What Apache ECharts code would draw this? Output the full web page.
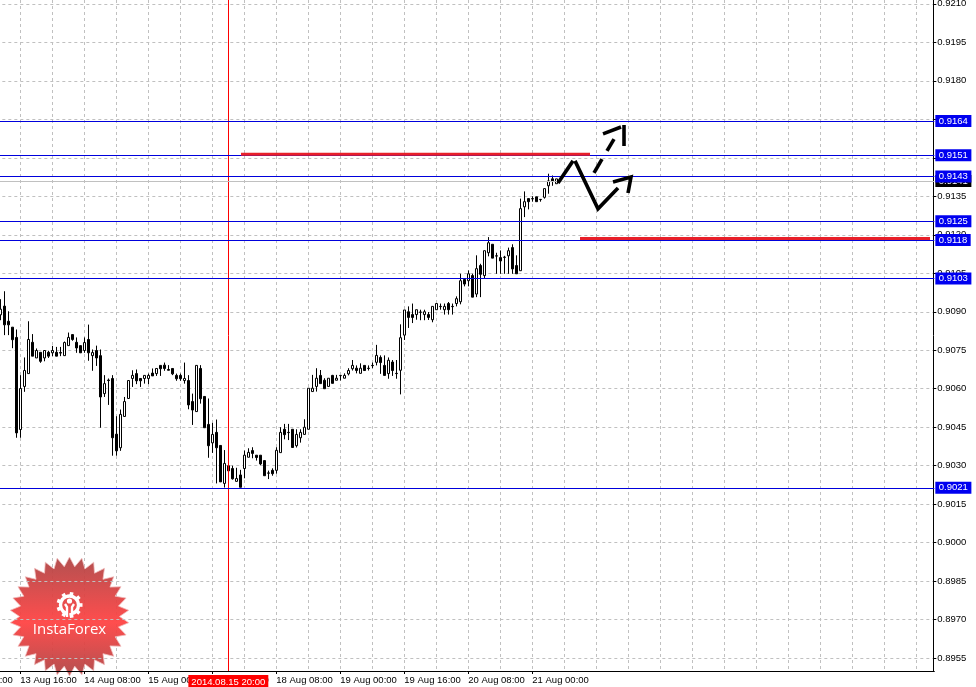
<!DOCTYPE html>
<html><head><meta charset="utf-8">
<style>html,body{margin:0;padding:0;background:#fff;overflow:hidden}#c{width:976px;height:687px}</style>
<script src="https://cdn.jsdelivr.net/npm/echarts@6/dist/echarts.min.js"></script>
</head><body><div id="c"></div>
<script>
const tradingDays = ['13 Aug','14 Aug','15 Aug','18 Aug','19 Aug','20 Aug','21 Aug','22 Aug','25 Aug','26 Aug','27 Aug'];
const offscreenBars = 11;
const lastLabelledBar = 144;
const gridBars = [16,24,32,40,48,56,64,72,80,88,96,104,112,120,128,136,144,152,160,168,176,184,192,200,208,216,224,232,240];
const yTicks = [0.9210,0.9195,0.9180,0.9165,0.9150,0.9135,0.9120,0.9105,0.9090,0.9075,0.9060,0.9045,0.9030,0.9015,0.9000,0.8985,0.8970,0.8955];

const opens = [
0.90888,0.90922,0.90863,0.90840,0.90800,0.90441,0.90609,0.90659,0.90781,0.90720,
0.90742,0.90720,0.90742,0.90740,0.90742,0.90741,0.90729,0.90768,0.90811,0.90781,
0.90768,0.90749,0.90792,0.90729,0.90749,0.90729,0.90581,0.90634,0.90640,0.90423,
0.90370,0.90492,0.90562,0.90640,0.90659,0.90640,0.90640,0.90640,0.90661,0.90659,
0.90691,0.90692,0.90675,0.90679,0.90652,0.90652,0.90632,0.90632,0.90550,0.90511,
0.90679,0.90570,0.90461,0.90389,0.90430,0.90379,0.90231,0.90300,0.90289,0.90239,
0.90264,0.90289,0.90333,0.90359,0.90341,0.90341,0.90320,0.90272,0.90282,0.90282,
0.90351,0.90442,0.90430,0.90442,0.90378,0.90409,0.90422,0.90442,0.90589,0.90609,
0.90652,0.90633,0.90609,0.90652,0.90633,0.90651,0.90641,0.90658,0.90678,0.90680,
0.90660,0.90691,0.90680,0.90691,0.90703,0.90722,0.90691,0.90659,0.90704,0.90660,
0.90672,0.90809,0.90900,0.90889,0.90889,0.90899,0.90889,0.90889,0.90869,0.90908,
0.90921,0.90908,0.90932,0.90921,0.90932,0.90939,0.91026,0.91021,0.91041,0.90969,
0.91080,0.91041,0.91130,0.91163,0.91118,0.91111,0.91113,0.91118,0.91150,0.91080,
0.91060,0.91309,0.91341,0.91341,0.91348,0.91338,0.91346,0.91391,0.91418,0.91399];
const closes = [
0.90910,0.90849,0.90849,0.90791,0.90428,0.90601,0.90671,0.90792,0.90727,0.90749,
0.90707,0.90749,0.90727,0.90749,0.90727,0.90739,0.90780,0.90800,0.90792,0.90759,
0.90740,0.90780,0.90740,0.90741,0.90720,0.90568,0.90620,0.90632,0.90409,0.90358,
0.90500,0.90550,0.90632,0.90652,0.90631,0.90631,0.90652,0.90652,0.90650,0.90679,
0.90678,0.90679,0.90672,0.90658,0.90639,0.90639,0.90640,0.90537,0.90517,0.90691,
0.90561,0.90448,0.90378,0.90422,0.90370,0.90237,0.90309,0.90280,0.90249,0.90250,
0.90216,0.90341,0.90352,0.90348,0.90332,0.90307,0.90261,0.90271,0.90269,0.90360,
0.90430,0.90421,0.90429,0.90371,0.90422,0.90430,0.90450,0.90602,0.90602,0.90641,
0.90620,0.90600,0.90641,0.90621,0.90641,0.90652,0.90652,0.90671,0.90691,0.90671,
0.90680,0.90671,0.90679,0.90690,0.90730,0.90702,0.90652,0.90711,0.90671,0.90659,
0.90799,0.90907,0.90878,0.90878,0.90908,0.90898,0.90900,0.90878,0.90921,0.90932,
0.90920,0.90921,0.90908,0.90920,0.90951,0.91021,0.91008,0.91048,0.90957,0.91068,
0.91046,0.91138,0.91169,0.91109,0.91117,0.91098,0.91112,0.91138,0.91067,0.91048,
0.91302,0.91329,0.91329,0.91340,0.91329,0.91337,0.91380,0.91410,0.91410,0.91418];
const lows = [
0.90867,0.90809,0.90809,0.90758,0.90409,0.90409,0.90588,0.90659,0.90727,0.90720,
0.90701,0.90707,0.90720,0.90727,0.90727,0.90727,0.90729,0.90768,0.90787,0.90740,
0.90740,0.90740,0.90709,0.90670,0.90689,0.90448,0.90568,0.90537,0.90339,0.90339,
0.90358,0.90492,0.90562,0.90607,0.90618,0.90607,0.90620,0.90618,0.90650,0.90650,
0.90650,0.90670,0.90672,0.90653,0.90631,0.90631,0.90620,0.90520,0.90459,0.90511,
0.90542,0.90448,0.90331,0.90350,0.90231,0.90237,0.90215,0.90215,0.90246,0.90239,
0.90216,0.90251,0.90333,0.90329,0.90320,0.90302,0.90261,0.90248,0.90261,0.90269,
0.90351,0.90403,0.90400,0.90371,0.90371,0.90390,0.90422,0.90442,0.90589,0.90589,
0.90620,0.90600,0.90609,0.90621,0.90633,0.90632,0.90641,0.90652,0.90671,0.90660,
0.90660,0.90671,0.90671,0.90680,0.90691,0.90658,0.90652,0.90639,0.90650,0.90639,
0.90578,0.90790,0.90837,0.90856,0.90869,0.90867,0.90867,0.90868,0.90859,0.90908,
0.90908,0.90889,0.90889,0.90889,0.90921,0.90929,0.90999,0.90999,0.90957,0.90957,
0.90957,0.91029,0.91116,0.91109,0.91048,0.91048,0.91048,0.91048,0.91048,0.91048,
0.91060,0.91269,0.91299,0.91329,0.91329,0.91329,0.91341,0.91360,0.91391,0.91399];
const highs = [
0.90949,0.90980,0.90902,0.90840,0.90831,0.90653,0.90722,0.90863,0.90813,0.90757,
0.90742,0.90749,0.90748,0.90767,0.90763,0.90763,0.90784,0.90819,0.90811,0.90800,
0.90768,0.90800,0.90850,0.90753,0.90768,0.90753,0.90653,0.90640,0.90653,0.90493,
0.90519,0.90568,0.90632,0.90672,0.90675,0.90640,0.90652,0.90659,0.90679,0.90679,
0.90691,0.90702,0.90692,0.90679,0.90659,0.90659,0.90702,0.90653,0.90581,0.90691,
0.90692,0.90570,0.90562,0.90467,0.90480,0.90379,0.90361,0.90300,0.90300,0.90292,
0.90284,0.90359,0.90368,0.90372,0.90341,0.90341,0.90320,0.90281,0.90290,0.90372,
0.90450,0.90463,0.90463,0.90442,0.90442,0.90442,0.90481,0.90602,0.90654,0.90680,
0.90673,0.90641,0.90641,0.90654,0.90654,0.90652,0.90660,0.90680,0.90712,0.90691,
0.90699,0.90691,0.90691,0.90702,0.90771,0.90730,0.90730,0.90722,0.90712,0.90712,
0.90851,0.90907,0.90921,0.90932,0.90908,0.90908,0.90908,0.90899,0.90921,0.90932,
0.90932,0.90932,0.90938,0.90932,0.90960,0.91048,0.91028,0.91061,0.91048,0.91120,
0.91087,0.91138,0.91191,0.91163,0.91130,0.91139,0.91118,0.91150,0.91163,0.91120,
0.91341,0.91369,0.91341,0.91350,0.91348,0.91338,0.91380,0.91438,0.91431,0.91418];

const blueLevels = [0.91643,0.91510,0.91427,0.91253,0.91180,0.91030,0.90214];
const currentPrice = 0.9141;
const cursorBar = 68;
const cursorLabel = '2014.08.15 20:00';

const redZones = [
  [[71.17,0.91514],[158.42,0.91514]],
  [[155.92,0.91186],[243.42,0.91186]]
];
const drawnSegments = [
  [[150.42,0.91402],[154.17,0.91488]],
  [[154.67,0.91488],[160.42,0.91301],[165.42,0.91382]],
  [[164.17,0.91406],[168.67,0.91425],[167.92,0.91363]],
  [[159.42,0.91441],[161.42,0.91495]],
  [[162.67,0.91527],[164.42,0.91573]],
  [[161.67,0.91593],[166.17,0.91620]],
  [[166.92,0.91628],[166.92,0.91546]]
];

const categories = [];
tradingDays.forEach(d => { for (let h = 0; h < 24; h++) categories.push(d + ' ' + String(h).padStart(2,'0') + ':00'); });
categories.length = offscreenBars + 234;
const candles = categories.map((c,i) => {
  const k = i - offscreenBars;
  return (k >= 0 && k < opens.length) ? [opens[k],closes[k],lows[k],highs[k]] : ['-','-','-','-'];
});

const FONT = '"Liberation Sans"';
const labelShown = i => i % 16 === 0 && i <= lastLabelledBar;

const cx = 69.5, cy = 616.5, teeth = 30, rOut = 59.5, rIn = 50;
const starPts = [];
for (let i = 0; i < teeth * 2; i++) {
  const a = Math.PI * i / teeth - Math.PI / 2, r = i % 2 ? rIn : rOut;
  starPts.push([cx + r * Math.cos(a), cy + r * Math.sin(a)]);
}
const gx = 69.5, gy = 605;
const gear = [];
for (let deg of [-160,-120,-80,-40,0,40,-200,80,-240]) {
  const a = deg * Math.PI / 180;
  gear.push({type:'line',z:1,silent:true,shape:{x1:gx+8*Math.cos(a),y1:gy+8*Math.sin(a),x2:gx+13*Math.cos(a),y2:gy+13*Math.sin(a)},style:{stroke:'#fff',lineWidth:3.6}});
}
const chart = echarts.init(document.getElementById('c'), null, {renderer:'canvas', width:976, height:687});
chart.setOption({
  animation:false,
  backgroundColor:'#fff',
  textStyle:{fontFamily:FONT},
  grid:{left:-45.67,top:0,width:980,height:671,containLabel:false,outerBoundsMode:'none'},
  xAxis:[
    {type:'category',data:categories,position:'bottom',z:3,boundaryGap:true,
     axisLine:{show:true,lineStyle:{color:'#000',width:1}},
     axisTick:{show:true,alignWithLabel:true,interval:labelShown,length:3,lineStyle:{color:'#000'}},
     axisLabel:{show:true,interval:labelShown,align:'left',color:'#000',fontSize:9.5,margin:4,fontFamily:FONT,hideOverlap:false,
       showMinLabel:true,showMaxLabel:true},
     splitLine:{show:false}},
    {type:'value',min:-0.5,max:244.5,position:'bottom',z:0,
     axisLine:{show:false},axisLabel:{show:false},
     axisTick:{show:false,customValues:gridBars},
     splitLine:{show:true,lineStyle:{color:'#c0c0c0',type:[3,3],width:1}}}
  ],
  yAxis:{type:'value',position:'right',min:0.8950,max:0.92115,offset:-1,z:2,
    axisLine:{show:true,onZero:false,lineStyle:{color:'#000',width:1}},
    axisTick:{show:true,length:3,customValues:yTicks,lineStyle:{color:'#000'}},
    axisLabel:{show:true,customValues:yTicks,color:'#000',fontSize:9.5,margin:4,fontFamily:FONT,formatter:v=>v.toFixed(4),showMinLabel:true,showMaxLabel:true},
    splitLine:{show:true,lineStyle:{color:'#c0c0c0',type:[3,3],width:1}}},
  graphic:{elements:[
    {type:'polygon',z:1,silent:true,shape:{points:starPts},
     style:{fill:new echarts.graphic.LinearGradient(0,0,0,1,[{offset:0,color:'#ae4545'},{offset:0.55,color:'#ff4242'},{offset:1,color:'#ae4545'}]),
            stroke:'rgba(240,190,190,0.8)',lineWidth:1,opacity:0.94}},
    {type:'arc',z:1,silent:true,shape:{cx:gx,cy:gy,r:9,startAngle:Math.PI*0.62,endAngle:Math.PI*0.38,clockwise:true},style:{stroke:'#fff',fill:null,lineWidth:3.4}},
    ...gear,
    {type:'circle',z:1,silent:true,shape:{cx:gx,cy:gy-4,r:2.6},style:{fill:'#fff'}},
    {type:'polyline',z:1,silent:true,shape:{points:[[gx-4.5,gy-1],[gx-2.5,gy+2],[gx-2.5,gy+12]]},style:{stroke:'#fff',lineWidth:2.4,fill:null}},
    {type:'polyline',z:1,silent:true,shape:{points:[[gx+4.5,gy-1],[gx+2.5,gy+2],[gx+2.5,gy+12]]},style:{stroke:'#fff',lineWidth:2.4,fill:null}},
    {type:'text',z:1,silent:true,x:cx,y:630,style:{text:'InstaForex',fill:'#fff',font:'15px "Open Sans"',align:'center',verticalAlign:'middle'}}
  ]},
  series:[
    {type:'candlestick',name:'price',xAxisIndex:0,yAxisIndex:0,data:candles,barWidth:3,silent:true,z:2,
     itemStyle:{color:'#fff',color0:'#000',borderColor:'#000',borderColor0:'#000',borderWidth:1},
     markLine:{silent:true,symbol:'none',animation:false,precision:5,z:5,
       data:[
         {xAxis:categories[cursorBar],lineStyle:{color:'#ff0000',width:1,type:'solid'},
          label:{show:true,position:'start',distance:4,formatter:cursorLabel,color:'#fff',backgroundColor:'#ff0000',fontFamily:FONT,fontSize:9.5,padding:[2,3,3,3]}},
         {yAxis:currentPrice,lineStyle:{color:'#c0c0c0',width:1,type:'solid'},
          label:{show:true,position:'end',distance:1,formatter:currentPrice.toFixed(4),color:'#fff',backgroundColor:'#000',fontFamily:FONT,fontSize:9.5,padding:[1,3.5,1,3.5]}},
         ...blueLevels.map(v=>({yAxis:v,lineStyle:{color:'#0000dc',width:1,type:'solid'},
          label:{show:true,position:'end',distance:1,formatter:v.toFixed(4),color:'#fff',backgroundColor:'#0000f0',fontFamily:FONT,fontSize:9.5,padding:[1,3.5,1,3.5]}}))
       ]}},
    ...redZones.map(d=>({type:'line',xAxisIndex:1,yAxisIndex:0,data:d,showSymbol:false,silent:true,z:6,lineStyle:{color:'#e8202a',width:3,cap:'butt'}})),
    ...drawnSegments.map(d=>({type:'line',xAxisIndex:1,yAxisIndex:0,data:d,showSymbol:false,silent:true,z:7,lineStyle:{color:'#000',width:3.6,cap:'butt',join:'miter'}}))
  ]
});
</script></body></html>
